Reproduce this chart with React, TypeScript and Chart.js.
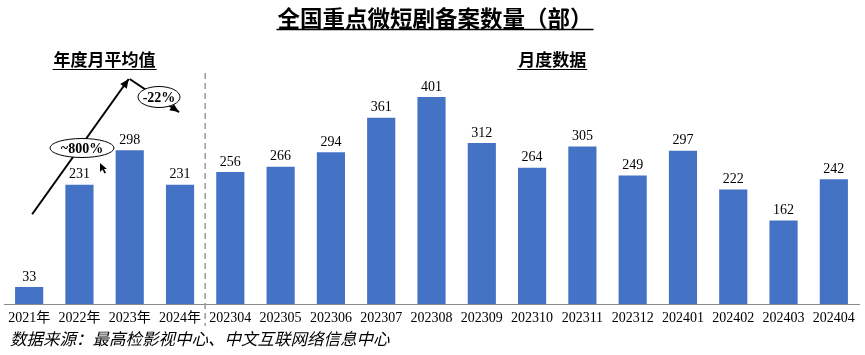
import { useEffect, useRef } from 'react';
import { Chart, registerables } from 'chart.js';

Chart.register(...registerables);

const categories = [
  '2021年', '2022年', '2023年', '2024年',
  '202304', '202305', '202306', '202307', '202308', '202309', '202310',
  '202311', '202312', '202401', '202402', '202403', '202404',
];
const values = [33, 231, 298, 231, 256, 266, 294, 361, 401, 312, 264, 305, 249, 297, 222, 162, 242];
const titleText = '全国重点微短剧备案数量（部）';
const leftLabel = '年度月平均值';
const rightLabel = '月度数据';
const sourceText = '数据来源：最高检影视中心、中文互联网络信息中心';
const growthLabel = '~800%';
const dropLabel = '-22%';

const SERIF = "'Liberation Serif', 'Times New Roman', 'Noto Sans CJK SC', serif";
const CJK = "'Noto Sans CJK SC', sans-serif";
const BAR = '#4472C4';

function arrow(ctx: CanvasRenderingContext2D, x1: number, y1: number, x2: number, y2: number) {
  ctx.beginPath();
  ctx.moveTo(x1, y1);
  ctx.lineTo(x2, y2);
  ctx.stroke();
  const a = Math.atan2(y2 - y1, x2 - x1);
  const L = 9, W = 4;
  ctx.beginPath();
  ctx.moveTo(x2, y2);
  ctx.lineTo(x2 - L * Math.cos(a) + W * Math.sin(a), y2 - L * Math.sin(a) - W * Math.cos(a));
  ctx.lineTo(x2 - L * Math.cos(a) - W * Math.sin(a), y2 - L * Math.sin(a) + W * Math.cos(a));
  ctx.closePath();
  ctx.fill();
}

function underlinedText(ctx: CanvasRenderingContext2D, text: string, cx: number, cy: number, font: string, uy: number, lw: number) {
  ctx.font = font;
  ctx.textAlign = 'center';
  ctx.textBaseline = 'middle';
  ctx.fillText(text, cx, cy);
  const w = ctx.measureText(text).width;
  ctx.lineWidth = lw;
  ctx.beginPath();
  ctx.moveTo(cx - w / 2 - 1, uy);
  ctx.lineTo(cx + w / 2 + 1, uy);
  ctx.stroke();
}

const decorPlugin = {
  id: 'decor',
  afterDraw(chart: any) {
    const ctx: CanvasRenderingContext2D = chart.ctx;
    const xs = chart.scales.x;
    const ys = chart.scales.y;
    ctx.save();
    ctx.fillStyle = '#000';
    ctx.strokeStyle = '#000';

    // value labels
    const meta = chart.getDatasetMeta(0);
    ctx.font = `14px ${SERIF}`;
    ctx.textAlign = 'center';
    ctx.textBaseline = 'bottom';
    meta.data.forEach((bar: any, i: number) => {
      ctx.fillText(String(values[i]), bar.x, bar.y - 3);
    });

    // title
    underlinedText(ctx, titleText, 435, 18, `bold 22.5px ${CJK}`, 29.5, 1.5);
    // section labels
    underlinedText(ctx, leftLabel, xs.getPixelForValue(1.5), 60, `bold 17px ${CJK}`, 69.5, 1.2);
    underlinedText(ctx, rightLabel, xs.getPixelForValue(10.4), 60, `bold 17px ${CJK}`, 69.5, 1.2);

    // dashed separator
    const sx = xs.getPixelForValue(3.5);
    ctx.save();
    ctx.strokeStyle = '#999';
    ctx.lineWidth = 1.5;
    ctx.setLineDash([6, 4]);
    ctx.beginPath();
    ctx.moveTo(sx, 73);
    ctx.lineTo(sx, 326);
    ctx.stroke();
    ctx.restore();

    // arrows
    ctx.lineWidth = 2;
    const peakX = xs.getPixelForValue(2) - 1;
    const peakY = ys.getPixelForValue(436);
    arrow(ctx, xs.getPixelForValue(0) + 3, ys.getPixelForValue(174), peakX, peakY);
    arrow(ctx, peakX + 1, peakY, xs.getPixelForValue(3) - 1, ys.getPixelForValue(372));

    // ellipses with labels
    const drawEllipse = (cx: number, cy: number, rx: number, ry: number, text: string) => {
      ctx.beginPath();
      ctx.ellipse(cx, cy, rx, ry, 0, 0, Math.PI * 2);
      ctx.fillStyle = '#fff';
      ctx.fill();
      ctx.lineWidth = 1;
      ctx.strokeStyle = '#000';
      ctx.stroke();
      ctx.fillStyle = '#000';
      ctx.font = `bold 14px ${SERIF}`;
      ctx.textAlign = 'center';
      ctx.textBaseline = 'middle';
      ctx.fillText(text, cx, cy + 1);
    };
    drawEllipse(82, 148, 32, 9.5, growthLabel);
    drawEllipse(159, 97, 21, 10.5, dropLabel);

    // small pointer
    const px = 100, py = 163;
    ctx.beginPath();
    ctx.moveTo(px, py);
    ctx.lineTo(px, py + 9);
    ctx.lineTo(px + 2.5, py + 6.5);
    ctx.lineTo(px + 4.5, py + 10.5);
    ctx.lineTo(px + 6, py + 9.8);
    ctx.lineTo(px + 4, py + 6);
    ctx.lineTo(px + 7, py + 6);
    ctx.closePath();
    ctx.fill();

    // source
    ctx.font = `italic 16.5px ${CJK}`;
    ctx.textAlign = 'left';
    ctx.textBaseline = 'middle';
    ctx.fillText(sourceText, 10, 339);

    ctx.restore();
  },
};

export default function App() {
  const ref = useRef<HTMLCanvasElement>(null);
  useEffect(() => {
    document.body.style.margin = '0';
    const canvas = ref.current;
    if (!canvas) return;
    const chart = new Chart(canvas, {
      type: 'bar',
      data: {
        labels: categories,
        datasets: [
          {
            data: values,
            backgroundColor: BAR,
            barPercentage: 0.56,
            categoryPercentage: 1,
          },
        ],
      },
      options: {
        animation: false,
        responsive: false,
        devicePixelRatio: 1,
        layout: { padding: { left: 4, right: 6, top: 46, bottom: 0 } },
        plugins: {
          legend: { display: false },
          tooltip: { enabled: false },
          title: { display: false },
        },
        scales: {
          x: {
            grid: { display: false },
            border: { display: true, color: '#8c8c8c', width: 1 },
            ticks: {
              color: '#000',
              font: { family: SERIF, size: 14 },
              padding: -2,
              maxRotation: 0,
              autoSkip: false,
            },
            afterFit: (s: any) => {
              s.height = 51;
            },
          },
          y: { display: false, min: 0, max: 500 },
        },
      },
      plugins: [decorPlugin],
    });
    return () => chart.destroy();
  }, []);
  return (
    <div style={{ width: 865, height: 355, background: '#fff' }}>
      <canvas ref={ref} width={865} height={355} style={{ display: 'block' }} />
    </div>
  );
}
